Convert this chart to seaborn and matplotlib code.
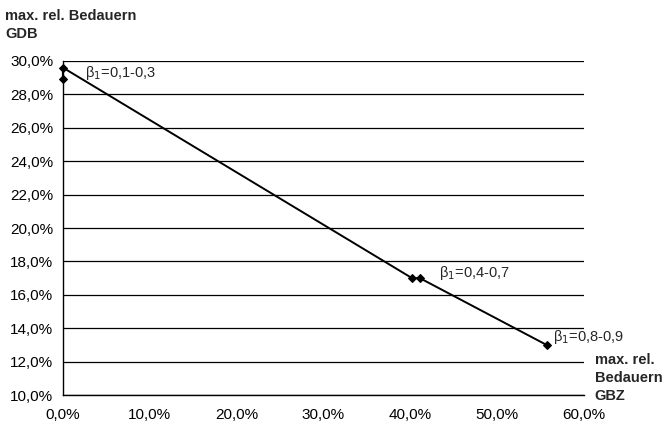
import numpy as np
import pandas as pd
import matplotlib
matplotlib.use("Agg")
import matplotlib.pyplot as plt
import seaborn as sns
from matplotlib.ticker import FuncFormatter, MultipleLocator

# max. rel. Bedauern GBZ (x) und GDB (y), in Prozent
gbz = [0.0, 0.0, 40.2, 41.1, 55.7]
gdb = [28.9, 29.6, 17.0, 17.0, 13.0]
beta_labels = ["β$_1$=0,1-0,3", "β$_1$=0,4-0,7", "β$_1$=0,8-0,9"]
label_pos = [(2.5, 29.3), (43.3, 17.3), (56.4, 13.5)]

df = pd.DataFrame({"gbz": gbz, "gdb": gdb})

sns.set_theme(style="white")
plt.rcParams["font.family"] = ["Liberation Sans", "DejaVu Sans"]

fig = plt.figure(figsize=(6.69, 4.29), dpi=100)
ax = fig.add_axes([0.094, 0.079, 0.779, 0.779])

# estimator=None, sonst mittelt seaborn die beiden Punkte bei x=0
sns.lineplot(data=df, x="gbz", y="gdb", sort=False, estimator=None,
             color="black", lw=1.4, marker="D", markersize=4,
             markeredgecolor="black", ax=ax)
for ln in ax.lines:
    ln.set_clip_on(False)
    ln.set_zorder(3)

ax.set_xlim(0, 60)
ax.set_ylim(10, 30)
ax.xaxis.set_major_locator(MultipleLocator(10))
ax.yaxis.set_major_locator(MultipleLocator(2))
fmt = FuncFormatter(lambda v, p: f"{v:.1f}%".replace(".", ","))
ax.xaxis.set_major_formatter(fmt)
ax.yaxis.set_major_formatter(fmt)
ax.grid(axis="y", color="black", lw=0.9)
ax.set_axisbelow(True)
for s in ["top", "right"]:
    ax.spines[s].set_visible(False)
for s in ["left", "bottom"]:
    ax.spines[s].set_color("black")
    ax.spines[s].set_linewidth(1.0)
ax.tick_params(axis="both", labelsize=11, colors="black", length=4, width=0.8)
ax.tick_params(axis="y", direction="out", pad=3)
ax.tick_params(axis="x", direction="in", pad=9)
ax.set_xlabel("")
ax.set_ylabel("")

for lab, (tx, ty) in zip(beta_labels, label_pos):
    ax.text(tx, ty, lab, fontsize=10.5, va="center", ha="left", clip_on=False)

fig.text(0.008, 0.978, "max. rel. Bedauern\nGDB", fontsize=10.5, fontweight="bold",
         va="top", ha="left", linespacing=1.3)
fig.text(0.889, 0.178, "max. rel.\nBedauern\nGBZ", fontsize=10.5, fontweight="bold",
         va="top", ha="left", linespacing=1.4)

fig.savefig("out.png", dpi=100)
